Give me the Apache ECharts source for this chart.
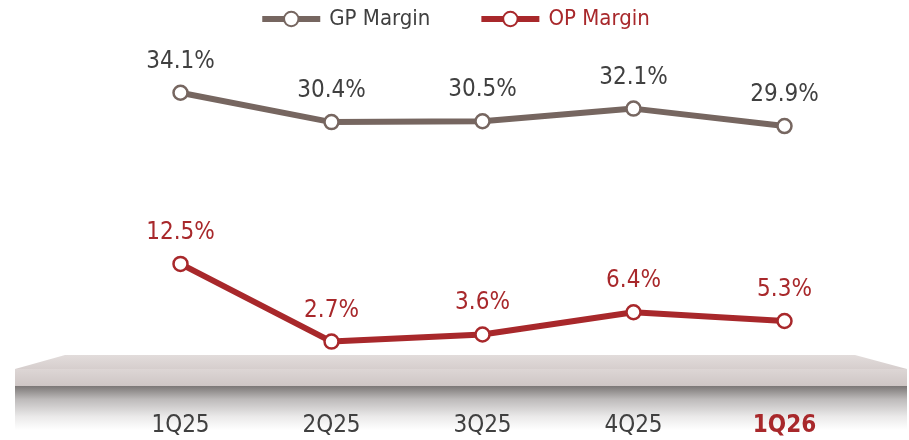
<!DOCTYPE html>
<html>
<head>
<meta charset="utf-8">
<script src="https://cdn.jsdelivr.net/npm/echarts@6/dist/echarts.min.js"></script>
<style>
html,body{margin:0;padding:0;background:#fff;}
#c{width:909px;height:440px;}
</style>
</head>
<body>
<div id="c"></div>
<script>
var categories = ['1Q25', '2Q25', '3Q25', '4Q25', '1Q26'];
var gpMargin = [34.1, 30.4, 30.5, 32.1, 29.9];
var opMargin = [12.5, 2.7, 3.6, 6.4, 5.3];

var FONT = '"Liberation Sans Narrow", "DejaVu Sans Condensed", "Arial Narrow", sans-serif';
var GP_COLOR = '#766660';
var OP_COLOR = '#a8282b';

var chart = echarts.init(document.getElementById('c'), null, {renderer: 'canvas'});

var option = {
  backgroundColor: '#ffffff',
  animation: false,
  legend: {
    top: 3,
    left: 'center',
    itemWidth: 58,
    itemHeight: 18,
    itemGap: 48,
    textStyle: {fontFamily: FONT, fontSize: 22, color: '#404040', padding: [0, 0, 0, 4]},
    lineStyle: {width: 6},
    data: [
      {name: 'GP Margin', textStyle: {color: '#404040'}},
      {name: 'OP Margin', textStyle: {color: OP_COLOR}}
    ]
  },
  grid: {left: 105, right: 49, top: 46, bottom: 77},
  xAxis: {
    type: 'category',
    data: categories,
    boundaryGap: true,
    axisLine: {show: false},
    axisTick: {show: false},
    axisLabel: {
      interval: 0,
      margin: 51,
      fontFamily: FONT,
      fontSize: 24,
      color: '#404040',
      formatter: function (v) {
        return v === '1Q26' ? '{hl|' + v + '}' : v;
      },
      rich: {
        hl: {fontFamily: FONT, fontSize: 24, fontWeight: 'bold', color: OP_COLOR}
      }
    },
    z: 10
  },
  yAxis: {
    type: 'value',
    min: 0,
    max: 40,
    show: false,
    splitLine: {show: false}
  },
  graphic: [
    {
      type: 'polygon',
      z: 0,
      shape: {points: [[65, 355], [855, 355], [907, 369], [15, 369]]},
      style: {
        fill: new echarts.graphic.LinearGradient(0, 0, 0, 1, [
          {offset: 0, color: '#e2dcdb'},
          {offset: 1, color: '#d6cecd'}
        ])
      }
    },
    {
      type: 'rect',
      z: 0,
      shape: {x: 15, y: 369, width: 892, height: 17},
      style: {
        fill: new echarts.graphic.LinearGradient(0, 0, 0, 1, [
          {offset: 0, color: '#ddd6d5'},
          {offset: 1, color: '#cec6c5'}
        ])
      }
    },
    {
      type: 'rect',
      z: 0,
      shape: {x: 15, y: 386, width: 892, height: 44},
      style: {
        fill: new echarts.graphic.LinearGradient(0, 0, 0, 1, [
          {offset: 0, color: '#7b7776'},
          {offset: 0.3, color: '#bdbaba'},
          {offset: 0.7, color: '#ebeaea'},
          {offset: 1, color: '#ffffff'}
        ])
      }
    }
  ],
  series: [
    {
      name: 'GP Margin',
      type: 'line',
      data: gpMargin,
      z: 5,
      symbol: 'circle',
      symbolSize: 14,
      color: GP_COLOR,
      lineStyle: {color: GP_COLOR, width: 6},
      itemStyle: {color: '#ffffff', borderColor: GP_COLOR, borderWidth: 2.5},
      label: {
        show: true,
        position: 'top',
        distance: 11,
        fontFamily: FONT,
        fontSize: 24,
        color: '#404040',
        formatter: function (p) { return p.value.toFixed(1) + '%'; }
      }
    },
    {
      name: 'OP Margin',
      type: 'line',
      data: opMargin,
      z: 5,
      symbol: 'circle',
      symbolSize: 14,
      color: OP_COLOR,
      lineStyle: {color: OP_COLOR, width: 6},
      itemStyle: {color: '#ffffff', borderColor: OP_COLOR, borderWidth: 2.5},
      label: {
        show: true,
        position: 'top',
        distance: 11,
        fontFamily: FONT,
        fontSize: 24,
        color: OP_COLOR,
        formatter: function (p) { return p.value.toFixed(1) + '%'; }
      }
    }
  ]
};

chart.setOption(option);
</script>
</body>
</html>
